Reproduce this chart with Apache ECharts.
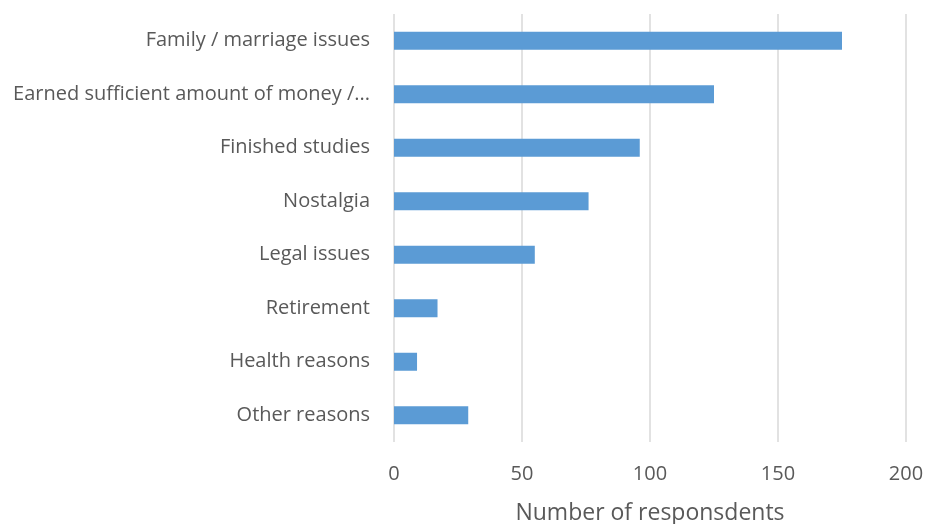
<!DOCTYPE html>
<html>
<head>
<meta charset="utf-8">
<title>Reasons for returning</title>
<script src="https://cdn.jsdelivr.net/npm/echarts@6/dist/echarts.min.js"></script>
<style>
  html, body { margin: 0; padding: 0; background: #fff; }
  #chart { width: 928px; height: 524px; }
</style>
</head>
<body>
<div id="chart"></div>
<script>
// categories listed top to bottom as in the picture
const categories = [
  'Family / marriage issues',
  'Earned sufficient amount of money /...',
  'Finished studies',
  'Nostalgia',
  'Legal issues',
  'Retirement',
  'Health reasons',
  'Other reasons'
]
const respondents = [175, 125, 96, 76, 55, 17, 9, 29]
const xTicks = { min: 0, max: 200, interval: 50 }

const textColor = '#595959'
const fontFamily = '"Open Sans", "Noto Sans", sans-serif'

const chart = echarts.init(document.getElementById('chart'))
chart.setOption({
  animation: false,
  grid: {
    left: 394,
    right: 22,
    top: 14,
    bottom: 82,
    containLabel: false,
    outerBoundsMode: 'none'
  },
  xAxis: {
    type: 'value',
    min: xTicks.min,
    max: xTicks.max,
    interval: xTicks.interval,
    name: 'Number of responsdents',
    nameLocation: 'middle',
    nameGap: 60,
    nameTextStyle: { color: textColor, fontSize: 23, fontFamily: fontFamily },
    axisLine: { show: false },
    axisTick: { show: false },
    axisLabel: { color: textColor, fontSize: 20, fontFamily: fontFamily, margin: 22 },
    splitLine: { show: true, lineStyle: { color: '#d9d9d9', width: 1.5 } }
  },
  yAxis: {
    type: 'category',
    data: categories,
    inverse: true,
    axisLine: { show: false },
    axisTick: { show: false },
    axisLabel: { color: textColor, fontSize: 20, fontFamily: fontFamily, margin: 24 }
  },
  series: [
    {
      type: 'bar',
      data: respondents,
      barWidth: 18,
      itemStyle: { color: '#5b9bd5' }
    }
  ]
})
</script>
</body>
</html>
